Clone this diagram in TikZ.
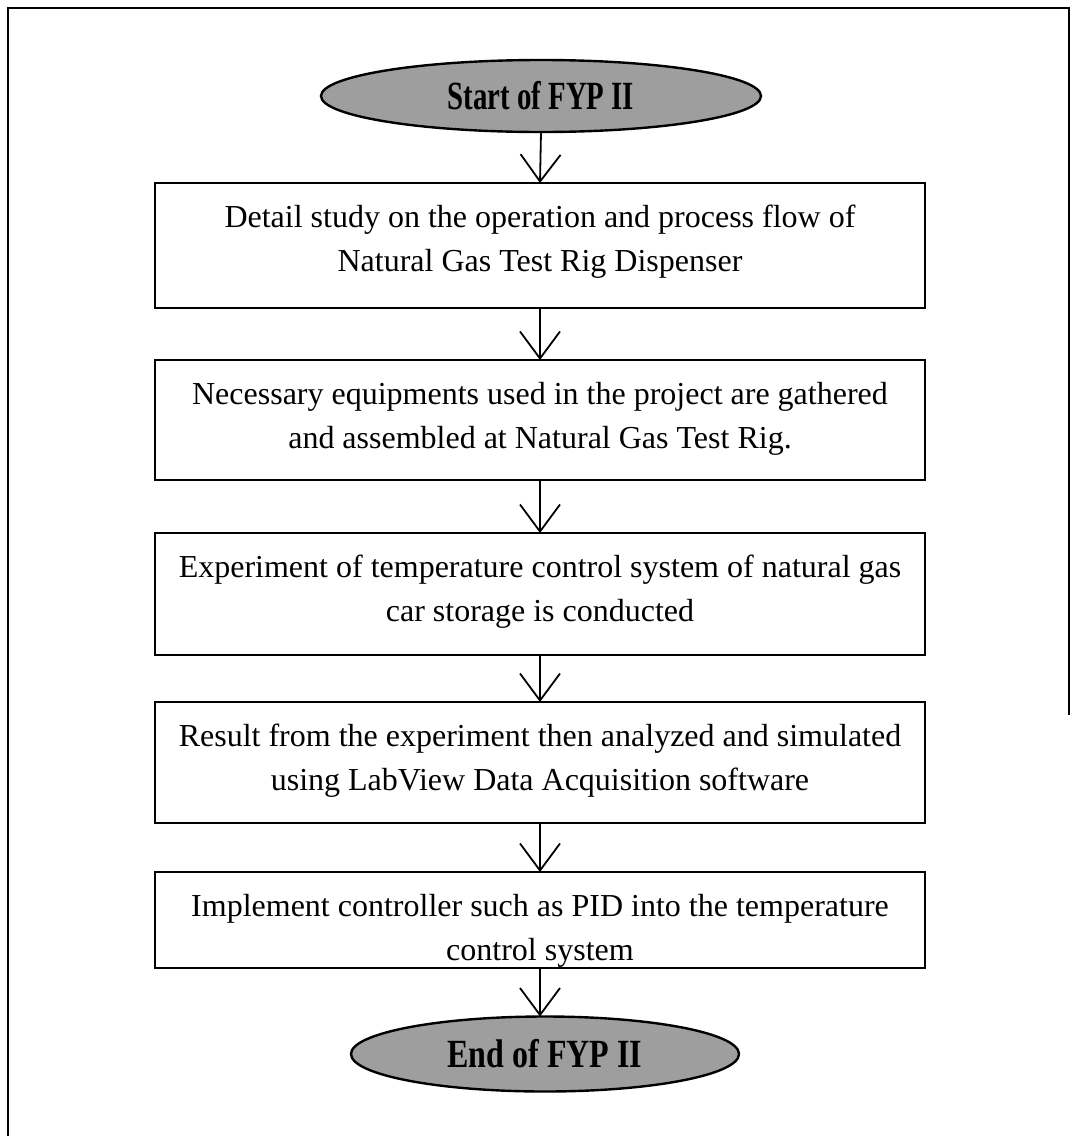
\documentclass[tikz,border=0pt]{standalone}
\usepackage{fontspec}
\setmainfont{Liberation Serif}
\usepackage{graphicx}
\usetikzlibrary{shapes.geometric,arrows.meta}
\tikzset{
  stepbox/.style={draw, line width=2.6pt, inner sep=0pt, outer sep=0pt},
  term/.style={ellipse, draw, line width=2.4pt, fill=black!38, inner sep=0pt, outer sep=0pt},
  arr/.style={line width=1.8pt, -{Straight Barb[length=27pt, width=40pt, line width=1.8pt]}},
  frame/.style={line width=2pt}
}
\newcommand{\boxtext}[3]{\parbox[c][#1pt][t]{770pt}{\centering\fontsize{32}{44}\selectfont\rule{0pt}{44pt}#2\\#3}}
\newcommand{\termtext}[2]{\scalebox{#1}[1]{\fontsize{40}{40}\selectfont\bfseries #2}}
\begin{document}
\begin{tikzpicture}[x=1pt, y=-1pt]
\useasboundingbox (0,0) rectangle (1074,1136);
\draw[frame] (8,1136) -- (8,8) -- (1069,8) -- (1069,715);
\node[term, minimum width=440pt, minimum height=72pt] (s) at (541,96) {\termtext{0.72}{Start of FYP II}};
\node[stepbox, anchor=north] (b1) at (540,183) {\boxtext{125}{Detail study on the operation and process flow of}{Natural Gas Test Rig Dispenser}};
\node[stepbox, anchor=north] (b2) at (540,360) {\boxtext{120}{Necessary equipments used in the project are gathered}{and assembled at Natural Gas Test Rig.}};
\node[stepbox, anchor=north] (b3) at (540,533) {\boxtext{122}{Experiment of temperature control system of natural gas}{car storage is conducted}};
\node[stepbox, anchor=north] (b4) at (540,702) {\boxtext{121}{Result from the experiment then analyzed and simulated}{using LabView Data Acquisition software}};
\node[stepbox, anchor=north] (b5) at (540,872) {\boxtext{96}{Implement controller such as PID into the temperature}{control system}};
\node[term, minimum width=388pt, minimum height=75pt] (e) at (545,1054) {\termtext{0.8}{End of FYP II}};
\draw[arr] (s.south) -- (b1.north);
\draw[arr] (b1.south) -- (b2.north);
\draw[arr] (b2.south) -- (b3.north);
\draw[arr] (b3.south) -- (b4.north);
\draw[arr] (b4.south) -- (b5.north);
\draw[arr] (b5.south) -- (b5.south |- e.north);
\end{tikzpicture}
\end{document}
